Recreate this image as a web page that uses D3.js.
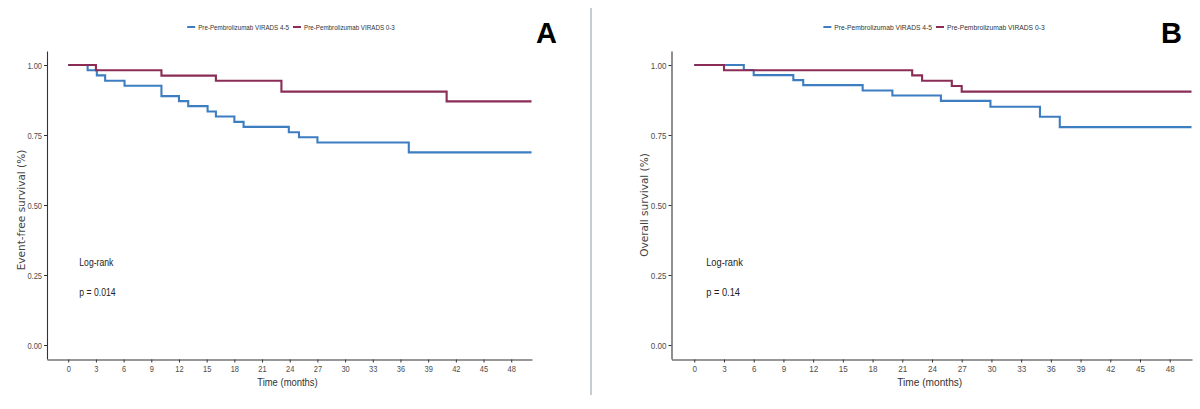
<!DOCTYPE html>
<html>
<head>
<meta charset="utf-8">
<script src="https://cdn.jsdelivr.net/npm/d3@7"></script>
<style>
  html, body { margin: 0; padding: 0; background: #fff; }
  svg { display: block; }
</style>
</head>
<body>
<div class="chart"></div>
<script>
// ticks
const monthTicks = [0, 3, 6, 9, 12, 15, 18, 21, 24, 27, 30, 33, 36, 39, 42, 45, 48];
const survTicks = [0, 0.25, 0.5, 0.75, 1];
const groupNames = ["Pre-Pembrolizumab VIRADS 4-5", "Pre-Pembrolizumab VIRADS 0-3"];

// panel A - event-free survival (last point = end of follow-up)
const efsHighTime = [0, 2.1, 3.1, 4.0, 6.1, 10.1, 12.0, 13.0, 15.1, 16.0, 18.0, 19.0, 23.9, 25.0, 27.0, 36.9, 50.2];
const efsHighSurv = [1, 0.981, 0.963, 0.944, 0.926, 0.889, 0.871, 0.853, 0.834, 0.816, 0.797, 0.779, 0.760, 0.742, 0.723, 0.688, 0.688];
const efsLowTime = [0, 3.0, 10.1, 16.0, 23.1, 41.0, 50.2];
const efsLowSurv = [1, 0.981, 0.962, 0.944, 0.905, 0.870, 0.870];

// panel B - overall survival
const osHighTime = [0, 5.0, 6.0, 10.0, 11.0, 17.0, 20.0, 24.9, 29.9, 34.9, 36.9, 50.2];
const osHighSurv = [1, 0.982, 0.964, 0.946, 0.928, 0.909, 0.891, 0.872, 0.851, 0.815, 0.778, 0.778];
const osLowTime = [0, 3.0, 22.0, 23.0, 26.0, 27.0, 50.2];
const osLowSurv = [1, 0.981, 0.963, 0.944, 0.925, 0.905, 0.905];

const colors = ["#3d7ec1", "#8a2c55"];
const sans = "'Liberation Sans', Arial, sans-serif";

const svg = d3.select(".chart").append("svg")
    .attr("width", 1200)
    .attr("height", 409);

svg.append("rect").attr("width", 1200).attr("height", 409).attr("fill", "#fff");

// squeeze Arial-like text so it reads like Arial Narrow
function squeeze(sel, f) {
    sel.each(function () {
        const len = this.getComputedTextLength();
        d3.select(this)
            .attr("textLength", len * f)
            .attr("lengthAdjust", "spacingAndGlyphs");
    });
}

// divider between panels
svg.append("line")
    .attr("x1", 591).attr("x2", 591)
    .attr("y1", 8).attr("y2", 395)
    .attr("stroke", "#8d99aa").attr("stroke-width", 1);

const panels = [
    {
        letter: "A", letterX: 557, left: 47, right: 532, legendX: 291, squeeze: 0.8,
        ylabel: "Event-free survival (%)", ylabelX: 25, ylabelY: 210, p: "p = 0.014",
        series: [[efsHighTime, efsHighSurv], [efsLowTime, efsLowSurv]]
    },
    {
        letter: "B", letterX: 1182, left: 671.5, right: 1192, legendX: 934, squeeze: 0.86,
        ylabel: "Overall survival (%)", ylabelX: 648, ylabelY: 205, p: "p = 0.14",
        series: [[osHighTime, osHighSurv], [osLowTime, osLowSurv]]
    }
];

panels.forEach(function (pn) {
    const g = svg.append("g");

    const x = d3.scaleLinear().domain([-2.3, 50.25]).range([pn.left, pn.right]);
    const y = d3.scaleLinear().domain([-0.05, 1.05]).range([359, 51]);

    // x axis
    const xAxis = g.append("g")
        .attr("transform", "translate(0,359.5)")
        .call(d3.axisBottom(x).tickValues(monthTicks).tickSize(3).tickSizeOuter(0).tickPadding(2.5));
    // y axis
    const yAxis = g.append("g")
        .attr("transform", `translate(${pn.left},0)`)
        .call(d3.axisLeft(y).tickValues(survTicks).tickFormat(d3.format(".2f")).tickSize(3).tickSizeOuter(0).tickPadding(2));

    [xAxis, yAxis].forEach(function (a) {
        a.select(".domain").attr("stroke", "#333").attr("stroke-width", 1.1);
        a.selectAll(".tick line").attr("stroke", "#333");
        a.selectAll(".tick text")
            .attr("fill", "#4d4d4d")
            .attr("font-family", sans)
            .attr("font-size", 9.4)
            .call(squeeze, pn.squeeze);
    });

    // curves
    const line = d3.line()
        .x(d => x(d[0]))
        .y(d => y(d[1]))
        .curve(d3.curveStepAfter);

    pn.series.forEach(function (s, i) {
        const pts = s[0].map((t, k) => [t, s[1][k]]);
        g.append("path")
            .datum(pts)
            .attr("fill", "none")
            .attr("stroke", colors[i])
            .attr("stroke-width", 2.1)
            .attr("d", line);
    });

    // axis titles
    g.append("text")
        .attr("x", (pn.left + pn.right) / 2 - 2)
        .attr("y", 386)
        .attr("text-anchor", "middle")
        .attr("font-family", sans)
        .attr("font-size", 11.8)
        .attr("fill", "#333")
        .text("Time (months)")
        .call(squeeze, pn.squeeze);

    g.append("text")
        .attr("transform", `translate(${pn.ylabelX},${pn.ylabelY}) rotate(-90)`)
        .attr("text-anchor", "middle")
        .attr("font-family", "'DejaVu Sans', sans-serif")
        .attr("font-size", 10.5)
        .attr("fill", "#444")
        .text(pn.ylabel);

    // log-rank annotation
    g.append("text")
        .attr("x", x(1.2)).attr("y", 266)
        .attr("font-family", sans)
        .attr("font-size", 10.8)
        .attr("fill", "#222")
        .text("Log-rank")
        .call(squeeze, pn.squeeze);
    g.append("text")
        .attr("x", x(1.2)).attr("y", 296)
        .attr("font-family", sans)
        .attr("font-size", 10.8)
        .attr("fill", "#222")
        .text(pn.p)
        .call(squeeze, pn.squeeze);

    // panel letter
    g.append("text")
        .attr("x", pn.letterX)
        .attr("y", 43)
        .attr("text-anchor", "end")
        .attr("font-family", sans)
        .attr("font-weight", "bold")
        .attr("font-size", 29)
        .attr("fill", "#000")
        .text(pn.letter);

    // legend
    const leg = g.append("g");
    let cx = 0;
    groupNames.forEach(function (name, i) {
        leg.append("line")
            .attr("x1", cx).attr("x2", cx + 8)
            .attr("y1", 27).attr("y2", 27)
            .attr("stroke", colors[i]).attr("stroke-width", 2);
        const t = leg.append("text")
            .attr("x", cx + 11).attr("y", 29.5)
            .attr("font-family", sans)
            .attr("font-size", 7.8)
            .attr("fill", "#333")
            .text(name)
            .call(squeeze, pn.squeeze);
        cx += 11 + (+t.attr("textLength")) + 4;
    });
    const lw = cx - 4;
    leg.attr("transform", `translate(${pn.legendX - lw / 2},0)`);
});
</script>
</body>
</html>
